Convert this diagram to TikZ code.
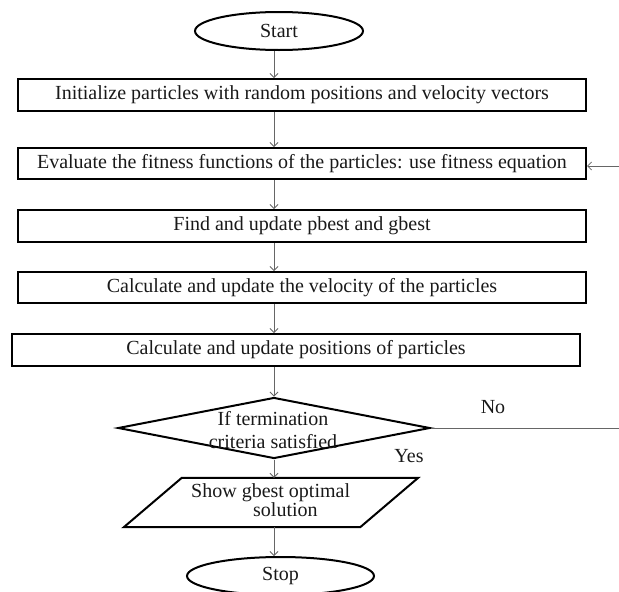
\documentclass[tikz,border=0pt]{standalone}
\usepackage{fontspec}
\setmainfont{Liberation Serif}
\usetikzlibrary{shapes.geometric,arrows.meta}
\begin{document}
\begin{tikzpicture}[x=1pt,y=-1pt,
  every node/.style={font=\fontsize{20}{23}\selectfont, text=black!90},
  stepbox/.style={draw=black, line width=2pt, minimum width=568pt, inner sep=0pt},
  term/.style={draw=black, line width=2pt, ellipse, inner sep=0pt, minimum height=38pt},
  arr/.style={draw=black!60, line width=0.8pt, -{Straight Barb[length=4pt,width=8pt]}},
  conn/.style={draw=black!60, line width=0.8pt},
  shapeline/.style={draw=black, line width=2pt, line join=miter}
]
\useasboundingbox (0,0) rectangle (619,592);
\coordinate (axis) at (274,0);

\node[term, minimum width=168pt] (start) at (279,31) {Start};
\node[stepbox, minimum height=32pt] (init) at (302,95) {Initialize particles with random positions and velocity vectors};
\node[stepbox, minimum height=31pt] (eval) at (302,163.5) {Evaluate the fitness functions of the particles: use fitness equation};
\node[stepbox, minimum height=32pt] (find) at (302,226) {Find and update pbest and gbest};
\node[stepbox, minimum height=31pt] (vel) at (302,287.5) {Calculate and update the velocity of the particles};
\node[stepbox, minimum height=32pt] (pos) at (296,350) {Calculate and update positions of particles};

\node[shapeline, diamond, minimum width=312pt, minimum height=61pt, inner sep=0pt] (dec) at (274,428) {};
\node[align=center, inner sep=0pt] (dectext) at (273,430) {If termination\\criteria satisfied};

\node[minimum width=236pt, minimum height=49pt, inner sep=0pt] (show) at (271,502.5) {};
\draw[shapeline] ([xshift=29pt]show.north west) -- ([xshift=29pt]show.north east)
  -- ([xshift=-29pt]show.south east) -- ([xshift=-29pt]show.south west) -- cycle;
\node[align=left, anchor=west, inner sep=0pt, font=\fontsize{20}{17}\selectfont] (showtext) at (191,500) {Show gbest optimal\\\hspace*{62pt}solution};

\node[term, minimum width=187pt] (stop) at (280.5,576) {Stop};

\node[inner sep=0pt] (no) at (493,407) {No};
\node[inner sep=0pt] (yes) at (409,456) {Yes};

\coordinate (noend) at (619,428);
\coordinate (backin) at (619,166);

\draw[arr] (start.south -| axis) -- (init.north -| axis);
\draw[arr] (init.south -| axis) -- (eval.north -| axis);
\draw[arr] (eval.south -| axis) -- (find.north -| axis);
\draw[arr] (find.south -| axis) -- (vel.north -| axis);
\draw[arr] (vel.south -| axis) -- (pos.north -| axis);
\draw[arr] (pos.south -| axis) -- (dec.north);
\draw[arr] (dec.south) -- (show.north -| dec.south);
\draw[arr] (show.south -| axis) -- (stop.north -| axis);
\draw[conn] (dec.east) -- (noend);
\draw[arr] (backin) -- (eval.east |- backin);
\end{tikzpicture}
\end{document}
